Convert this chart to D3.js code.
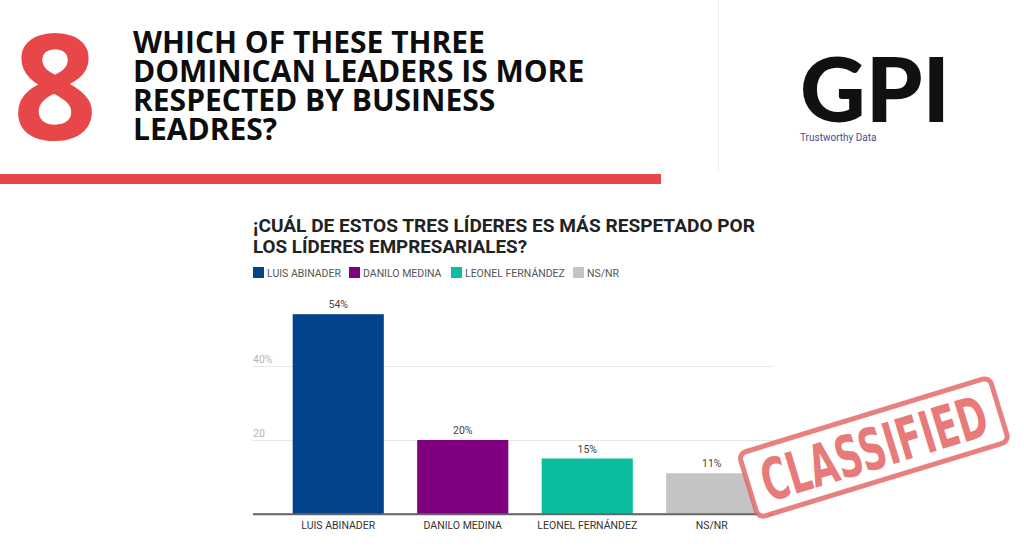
<!DOCTYPE html>
<html>
<head>
<meta charset="utf-8">
<script src="https://cdn.jsdelivr.net/npm/d3@7"></script>
<style>
  html, body { margin: 0; padding: 0; background: #fff; }
  svg { display: block; }
</style>
</head>
<body>
<svg id="chart" width="1024" height="557"></svg>
<script>
// data
var categories = ["LUIS ABINADER", "DANILO MEDINA", "LEONEL FERNÁNDEZ", "NS/NR"];
var values = [54, 20, 15, 11];
var colors = ["#01448b", "#800080", "#0abd9f", "#c4c4c4"];
var tickValues = [0, 20, 40];
var tickLabels = ["", "20", "40%"];
var headline = ["WHICH OF THESE THREE", "DOMINICAN LEADERS IS MORE", "RESPECTED BY BUSINESS", "LEADRES?"];
var chartTitle = ["¡CUÁL DE ESTOS TRES LÍDERES ES MÁS RESPETADO POR", "LOS LÍDERES EMPRESARIALES?"];

var svg = d3.select("svg#chart");

// ---- header ----
svg.append("text")
    .attr("x", 13)
    .attr("y", 140)
    .attr("font-family", "'Open Sans'")
    .attr("font-weight", 700)
    .attr("font-size", 147)
    .attr("fill", "#e8474a")
    .text("8");

svg.append("g").selectAll("text")
    .data(headline)
  .enter().append("text")
    .attr("x", 133)
    .attr("y", function(d, i) { return 53 + i * 29; })
    .attr("font-family", "'Open Sans'")
    .attr("font-weight", 700)
    .attr("font-size", 30)
    .attr("fill", "#0d0d0d")
    .text(function(d) { return d; });

svg.append("rect")
    .attr("x", 0).attr("y", 174)
    .attr("width", 661).attr("height", 10)
    .attr("fill", "#e8474a");

// faint divider next to the logo
svg.append("line")
    .attr("x1", 718.5).attr("x2", 718.5)
    .attr("y1", 0).attr("y2", 172)
    .attr("stroke", "#f0f0f0");

svg.append("text")
    .attr("x", 800)
    .attr("y", 122)
    .attr("font-family", "Lato")
    .attr("font-weight", 900)
    .attr("font-size", 90)
    .attr("textLength", 150)
    .attr("lengthAdjust", "spacingAndGlyphs")
    .attr("fill", "#111")
    .text("GPI");

svg.append("text")
    .attr("x", 800)
    .attr("y", 141)
    .attr("font-family", "Roboto")
    .attr("font-size", 10)
    .attr("fill", "#4b4c93")
    .text("Trustworthy Data");

// ---- chart ----
var g = svg.append("g").attr("font-family", "Roboto");

var titleWidths = [502, 274];
g.selectAll("text.title")
    .data(chartTitle)
  .enter().append("text")
    .attr("class", "title")
    .attr("x", 253)
    .attr("y", function(d, i) { return 232 + i * 21; })
    .attr("font-weight", 700)
    .attr("font-size", 19)
    .attr("textLength", function(d, i) { return titleWidths[i]; })
    .attr("lengthAdjust", "spacingAndGlyphs")
    .attr("fill", "#222")
    .text(function(d) { return d; });

// legend
var legendX = [253, 349, 451, 573];
var legend = g.selectAll("g.legend")
    .data(categories)
  .enter().append("g")
    .attr("class", "legend")
    .attr("transform", function(d, i) { return "translate(" + legendX[i] + ",267)"; });

legend.append("rect")
    .attr("width", 11).attr("height", 11)
    .attr("fill", function(d, i) { return colors[i]; });

legend.append("text")
    .attr("x", 14)
    .attr("y", 9.5)
    .attr("font-size", 10.5)
    .attr("fill", "#555")
    .text(function(d) { return d; });

var x = d3.scaleBand()
    .domain(categories)
    .range([276, 774])
    .paddingInner(0.268)
    .paddingOuter(0.134);

var y = d3.scaleLinear()
    .domain([0, 60])
    .range([514, 292]);

// gridlines + tick labels
var yAxis = g.append("g")
    .attr("transform", "translate(253,0)")
    .call(d3.axisRight(y)
      .tickValues(tickValues)
      .tickSize(520)
      .tickFormat(function(d, i) { return tickLabels[i]; }));

yAxis.select(".domain").remove();
yAxis.selectAll(".tick line")
    .attr("stroke", function(d) { return d === 0 ? "#666" : "#e6e6e6"; })
    .attr("stroke-width", function(d) { return d === 0 ? 1.5 : 1; });
yAxis.selectAll(".tick text")
    .attr("x", 0)
    .attr("dy", -4)
    .attr("text-anchor", "start")
    .attr("font-family", "Roboto")
    .attr("font-size", 10.5)
    .attr("fill", "#b5b5b5");

// bars
g.selectAll("rect.bar")
    .data(values)
  .enter().append("rect")
    .attr("class", "bar")
    .attr("x", function(d, i) { return x(categories[i]); })
    .attr("y", function(d) { return y(d); })
    .attr("width", x.bandwidth())
    .attr("height", function(d) { return y(0) - y(d); })
    .attr("fill", function(d, i) { return colors[i]; });

// redraw baseline over bars
g.append("line")
    .attr("x1", 253).attr("x2", 773)
    .attr("y1", y(0)).attr("y2", y(0))
    .attr("stroke", "#666")
    .attr("stroke-width", 1.5);

g.selectAll("text.value")
    .data(values)
  .enter().append("text")
    .attr("class", "value")
    .attr("x", function(d, i) { return x(categories[i]) + x.bandwidth() / 2; })
    .attr("y", function(d) { return y(d) - 6; })
    .attr("text-anchor", "middle")
    .attr("font-size", 10.5)
    .attr("fill", "#444")
    .text(function(d) { return d + "%"; });

var xAxis = g.append("g")
    .attr("transform", "translate(0," + y(0) + ")")
    .call(d3.axisBottom(x).tickSize(0).tickPadding(7.5));

xAxis.select(".domain").remove();
xAxis.selectAll(".tick text")
    .attr("font-family", "Roboto")
    .attr("font-size", 10.5)
    .attr("fill", "#333");

// ---- CLASSIFIED stamp ----
var stamp = svg.append("g")
    .attr("transform", "translate(874,448) rotate(-17)");

stamp.append("rect")
    .attr("x", -131).attr("y", -34)
    .attr("width", 262).attr("height", 67)
    .attr("rx", 7)
    .attr("fill", "#fff")
    .attr("stroke", "#e46a6a")
    .attr("stroke-width", 5)
    .attr("stroke-opacity", 0.85);

stamp.append("text")
    .attr("x", 0)
    .attr("y", 21)
    .attr("text-anchor", "middle")
    .attr("font-family", "'DejaVu Sans'")
    .attr("font-weight", 700)
    .attr("font-size", 58)
    .attr("textLength", 234)
    .attr("lengthAdjust", "spacingAndGlyphs")
    .attr("fill", "#e46262")
    .attr("fill-opacity", 0.85)
    .text("CLASSIFIED");
</script>
</body>
</html>
